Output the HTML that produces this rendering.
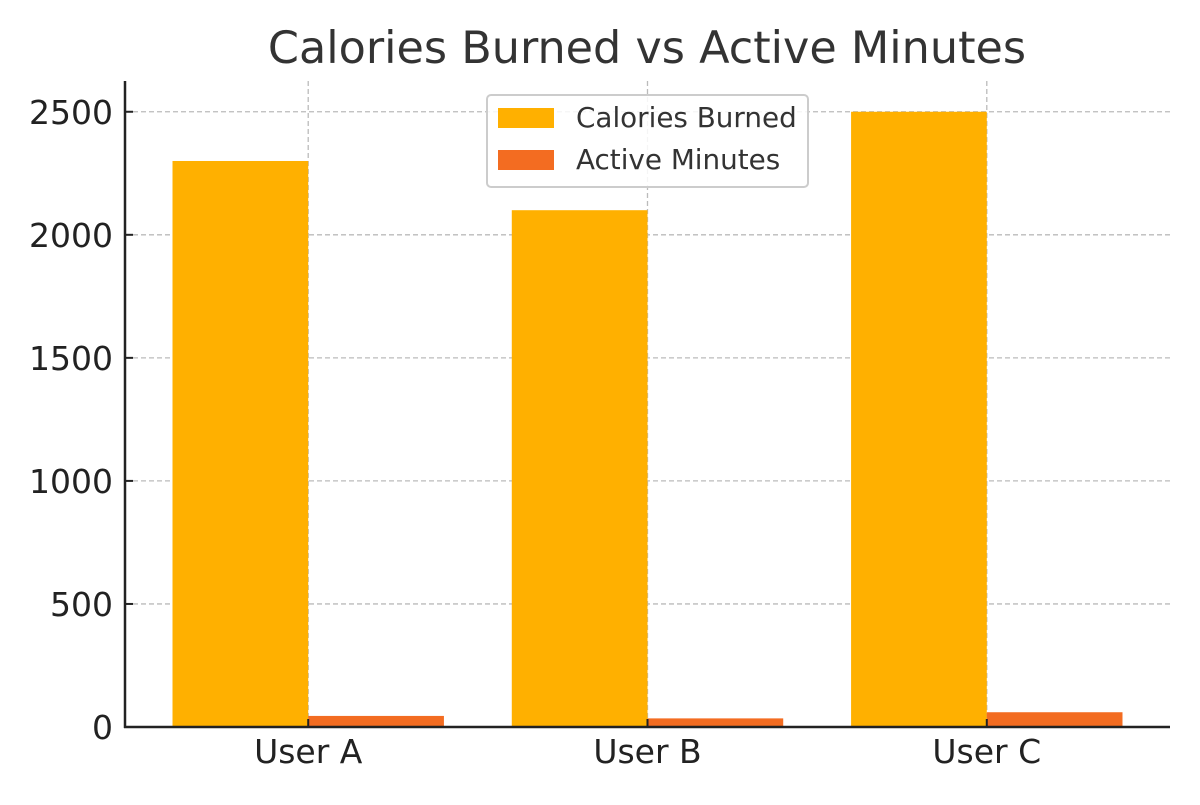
<!DOCTYPE html>
<html><head><meta charset="utf-8"><style>
body{margin:0;background:#fff;}
svg text{font-family:"DejaVu Sans","Liberation Sans",sans-serif;}
</style></head><body>
<svg id="chart" width="1200" height="800" xmlns="http://www.w3.org/2000/svg">
<text x="647" y="63" text-anchor="middle" font-size="44.5" fill="#333">Calories Burned vs Active Minutes</text>
<g id="grid"></g>
<g id="bars"></g>
<g id="axes"></g>
<g>
<rect x="487" y="95" width="321" height="92" rx="4" fill="#fff" fill-opacity="0.85" stroke="#ccc" stroke-width="2"/>
<rect x="498" y="108" width="56" height="20" fill="#FFB000"/>
<text x="576" y="127" font-size="27.8" fill="#333">Calories Burned</text>
<rect x="498" y="150" width="56" height="20" fill="#F36C21"/>
<text x="576" y="169" font-size="27.8" fill="#333">Active Minutes</text>
</g>
</svg>
<script>
const categories=["User A","User B","User C"];
const calories=[2300,2100,2500];
const minutes=[45,35,60];
const yTicks=[0,500,1000,1500,2000,2500];
const NS="http://www.w3.org/2000/svg";
const L=125,R=1170,T=81,B=727,xmin=-0.54,xmax=2.54,ymax=2625;
const x=v=>L+(v-xmin)/(xmax-xmin)*(R-L);
const y=v=>B-v/ymax*(B-T);
function mk(tag,attrs,parent){const e=document.createElementNS(NS,tag);for(const k in attrs)e.setAttribute(k,attrs[k]);document.getElementById(parent).appendChild(e);return e;}
yTicks.forEach(t=>{const l=mk('line',{x1:L,x2:R,y1:y(t),y2:y(t),stroke:'#bbb','stroke-dasharray':'5,3','stroke-width':1.3},'grid');

});
categories.forEach((c,i)=>{const l=mk('line',{x1:x(i),x2:x(i),y1:T,y2:B,stroke:'#bbb','stroke-dasharray':'5,3','stroke-width':1.3},'grid');

});
const bw=0.4;
categories.forEach((c,i)=>{
const a=mk('rect',{x:x(i-bw),y:y(calories[i]),width:x(i)-x(i-bw),height:B-y(calories[i]),fill:'#FFB000'},'bars');


const b=mk('rect',{x:x(i),y:y(minutes[i]),width:x(i+bw)-x(i),height:B-y(minutes[i]),fill:'#F36C21'},'bars');


const tk=mk('line',{x1:x(i),x2:x(i),y1:B,y2:B-8,stroke:'#222','stroke-width':2},'axes');


const t=mk('text',{x:x(i),y:763,'text-anchor':'middle','font-size':33,fill:'#222'},'axes');t.textContent=c;


});
yTicks.forEach(v=>{const t=mk('text',{x:113,y:y(v)+12,'text-anchor':'end','font-size':33,fill:'#222'},'axes');t.textContent=v;


const tk=mk('line',{x1:L,x2:L+8,y1:y(v),y2:y(v),stroke:'#222','stroke-width':2},'axes');

});
const ya=mk('line',{x1:L,x2:L,y1:T,y2:B+1,stroke:'#222','stroke-width':2.5},'axes');


const xa=mk('line',{x1:L-1,x2:R,y1:B,y2:B,stroke:'#222','stroke-width':2.5},'axes');


</script>
</body></html>
